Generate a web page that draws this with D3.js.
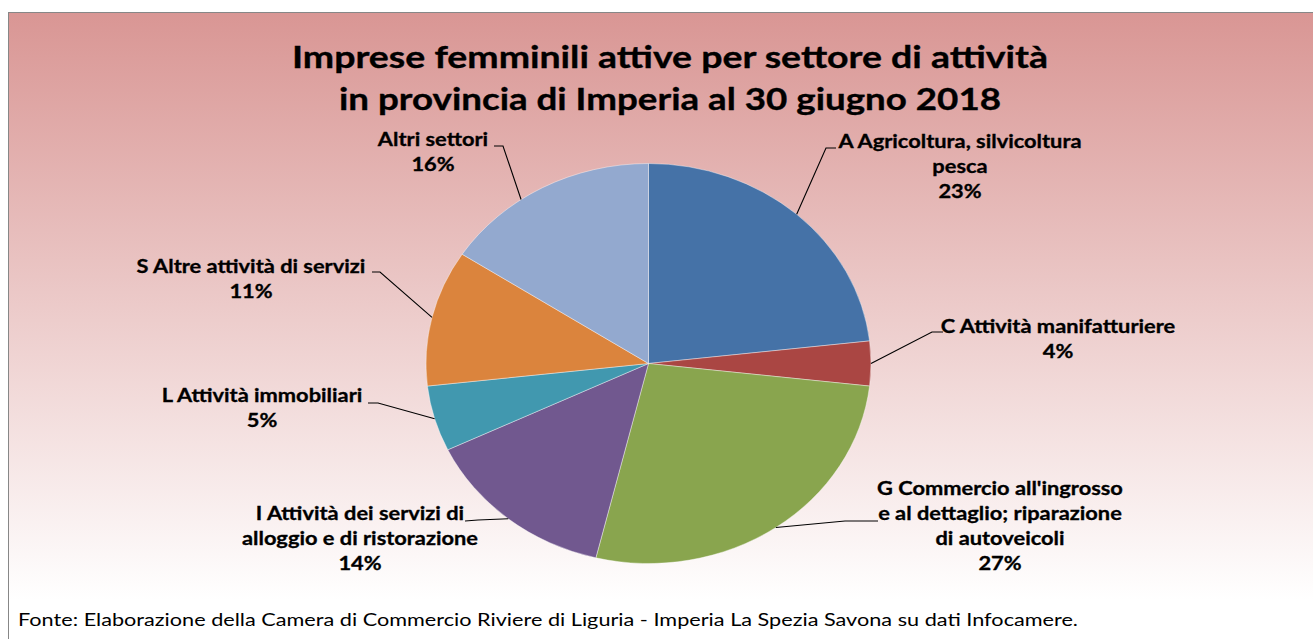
<!DOCTYPE html>
<html><head><meta charset="utf-8">
<script src="https://cdn.jsdelivr.net/npm/d3@7/dist/d3.min.js"></script>
<style>body{margin:0;background:#fff;overflow:hidden;} svg{display:block;}</style>
</head><body>
<svg id="chart" width="1313" height="639"></svg>
<script>
// ---- data ----
const categories = ["A", "C", "G", "I", "L", "S", "Altri"];
const labelLines = [
  ["A Agricoltura, silvicoltura", "pesca"],
  ["C Attività manifatturiere"],
  ["G Commercio all'ingrosso", "e al dettaglio; riparazione", "di autoveicoli"],
  ["I Attività dei servizi di", "alloggio e di ristorazione"],
  ["L Attività immobiliari"],
  ["S Altre attività di servizi"],
  ["Altri settori"]
];
const values = [23.2, 3.6, 27.0, 14.1, 5.3, 11.0, 15.8];
const colors = ["#4572A7", "#AA4643", "#89A54E", "#71588F", "#4198AF", "#DB843D", "#93A9CF"];
const titleLines = ["Imprese femminili attive per settore di attività", "in provincia di Imperia al 30 giugno 2018"];
const footerText = "Fonte: Elaborazione della Camera di Commercio Riviere di Liguria - Imperia La Spezia Savona su dati Infocamere.";

// ---- layout ----
const cx = 648.5, cy = 363.5, R = 200, sx = 1.1125;
const labelLayout = [
  {x: 960,  y: 148, end: [836, 148], elbow: [826, 148], off: 0},
  {x: 1058, y: 333, end: [943, 332], elbow: [932, 332], off: 0},
  {x: 1000, y: 495, end: [878, 521], elbow: [845, 521], off: 0},
  {x: 360,  y: 520, end: [465, 521], elbow: [478, 520], off: 0},
  {x: 262,  y: 402, end: [368, 403], elbow: [378, 403], off: 0},
  {x: 251,  y: 273, end: [372, 272], elbow: [380, 272], off: 0},
  {x: 433,  y: 146, end: [494, 146], elbow: [503, 146], off: -6.5}
];
const lineH = 25;

const svg = d3.select("#chart");
const defs = svg.append("defs");
const grad = defs.append("linearGradient").attr("id", "bg")
  .attr("gradientUnits", "userSpaceOnUse").attr("x1", 0).attr("y1", 13).attr("x2", 0).attr("y2", 600);
grad.append("stop").attr("offset", 0).attr("stop-color", "#D99694");
grad.append("stop").attr("offset", 1).attr("stop-color", "#FFFFFF");

svg.append("rect").attr("x", 8.5).attr("y", 12.5).attr("width", 1330).attr("height", 700)
  .attr("fill", "url(#bg)").attr("stroke", "#878787").attr("stroke-width", 1);

// title
const title = svg.append("g").attr("font-family", "Lato, sans-serif").attr("font-weight", "bold")
  .attr("font-size", 30).attr("fill", "#000").attr("stroke", "#000").attr("stroke-width", 0.35)
  .attr("text-anchor", "middle");
const titleW = [756, 662], titleY = [68, 110];
titleLines.forEach((t, i) => {
  title.append("text").attr("x", 670).attr("y", titleY[i]).attr("textLength", titleW[i])
    .attr("lengthAdjust", "spacingAndGlyphs").text(t);
});

// pie
const pie = d3.pie().sort(null).value(d => d);
const arcs = pie(values);
const arc = d3.arc().innerRadius(0).outerRadius(R);
const pg = svg.append("g").attr("transform", `translate(${cx},${cy}) scale(${sx},1)`);
pg.selectAll("path").data(arcs).join("path")
  .attr("d", arc).attr("fill", (d, i) => colors[i])
  .attr("stroke", "#ffffff").attr("stroke-opacity", 0.5).attr("stroke-width", 0.8)
  .attr("vector-effect", "non-scaling-stroke");

// leader lines
const pt = a => [cx + sx * R * Math.sin(a), cy - R * Math.cos(a)];
const lg = svg.append("g");
arcs.forEach((d, i) => {
  const L = labelLayout[i];
  const a = (d.startAngle + d.endAngle) / 2 + L.off * Math.PI / 180;
  const p = pt(a);
  lg.append("path").attr("d", d3.line()([p, L.elbow, L.end]))
    .attr("fill", "none").attr("stroke", "#000").attr("stroke-width", 1.1);
});

// labels
const lab = svg.append("g").attr("font-family", "Lato, sans-serif").attr("font-weight", "bold")
  .attr("font-size", 18).attr("fill", "#000").attr("stroke", "#000").attr("stroke-width", 0.3)
  .attr("text-anchor", "middle");
const ref = lab.append("text").text(labelLines[0][0]);
const k = 243 / ref.node().getComputedTextLength();
ref.remove();
arcs.forEach((d, i) => {
  const L = labelLayout[i];
  const lines = labelLines[i].concat([Math.round(values[i]) + "%"]);
  lines.forEach((t, j) => {
    const tx = lab.append("text").attr("x", L.x).attr("y", L.y + j * lineH).text(t);
    const w = tx.node().getComputedTextLength();
    tx.attr("textLength", w * k).attr("lengthAdjust", "spacingAndGlyphs");
  });
});

// footer
svg.append("text").attr("x", 18).attr("y", 626).attr("font-family", "Lato, sans-serif")
  .attr("font-size", 16.5).attr("fill", "#000").attr("textLength", 1060)
  .attr("lengthAdjust", "spacingAndGlyphs").text(footerText);
</script>
</body></html>
